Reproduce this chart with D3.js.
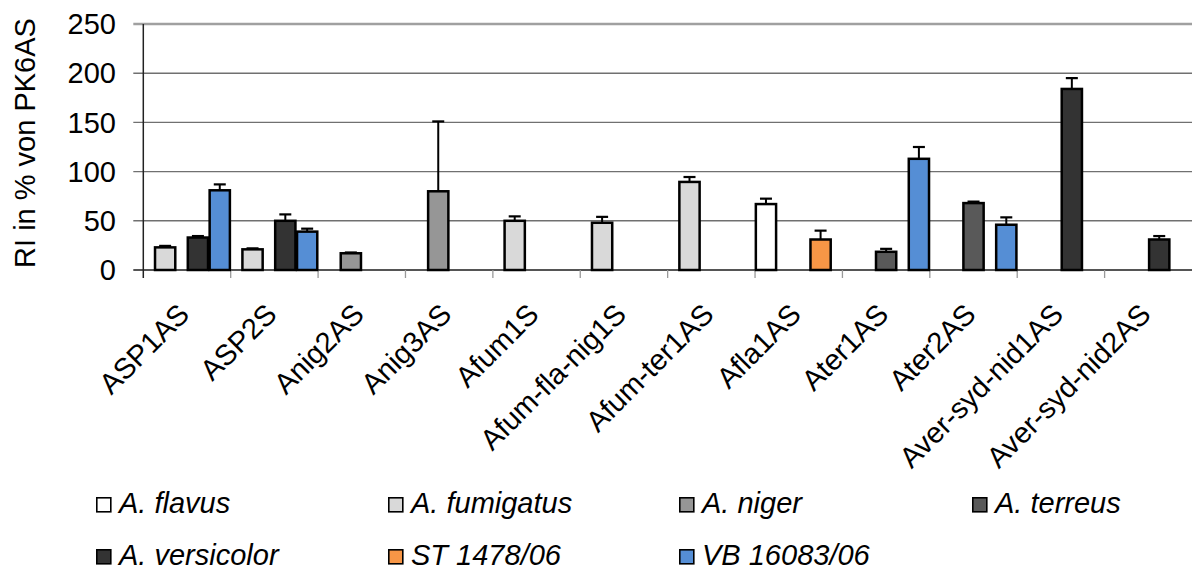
<!DOCTYPE html>
<html>
<head>
<meta charset="utf-8">
<script src="https://cdn.jsdelivr.net/npm/d3@7"></script>
<style>
  html, body { margin: 0; padding: 0; background: #fff; }
  svg { display: block; font-family: "Liberation Sans", Arial, Helvetica, sans-serif; }
</style>
</head>
<body>
<svg id="chart" width="1192" height="570"></svg>
<script>
// ---- data ----
const categories = ["ASP1AS", "ASP2S", "Anig2AS", "Anig3AS", "Afum1S", "Afum-fla-nig1S",
  "Afum-ter1AS", "Afla1AS", "Ater1AS", "Ater2AS", "Aver-syd-nid1AS", "Aver-syd-nid2AS"];
const seriesNames = ["A. flavus", "A. fumigatus", "A. niger", "A. terreus", "A. versicolor", "ST 1478/06", "VB 16083/06"];
const seriesColors = ["#ffffff", "#d9d9d9", "#969696", "#595959", "#333333", "#f79646", "#558ed5"];
const yTicks = [0, 50, 100, 150, 200, 250];

const flavus      = [null, null, null, null, null, null, null, 67, null, null, null, null];
const fumigatus   = [23, 21, null, null, 50, 48, 89.5, null, null, null, null, null];
const niger       = [null, null, 17, 80, null, null, null, null, null, null, null, null];
const terreus     = [null, null, null, null, null, null, null, null, 18.5, 68, null, null];
const versicolor  = [33, 50, null, null, null, null, null, null, null, null, 184, 31];
const st1478      = [null, null, null, null, null, null, null, 31, null, null, null, null];
const vb16083     = [81, 39, null, null, null, null, null, null, 113, 46, null, null];

const flavusErr     = [null, null, null, null, null, null, null, 5.5, null, null, null, null];
const fumigatusErr  = [1.5, 1, null, null, 4.5, 6, 5, null, null, null, null, null];
const nigerErr      = [null, null, 0.8, 71, null, null, null, null, null, null, null, null];
const terreusErr    = [null, null, null, null, null, null, null, null, 3, 1.5, null, null];
const versicolorErr = [1.5, 6.5, null, null, null, null, null, null, null, null, 11, 3.5];
const st1478Err     = [null, null, null, null, null, null, null, 9, null, null, null, null];
const vb16083Err    = [6, 3, null, null, null, null, null, null, 12, 7.5, null, null];

const seriesValues = [flavus, fumigatus, niger, terreus, versicolor, st1478, vb16083];
const seriesErrors = [flavusErr, fumigatusErr, nigerErr, terreusErr, versicolorErr, st1478Err, vb16083Err];

// ---- layout ----
const svg = d3.select("#chart");
const plot = { left: 143.3, right: 1192, top: 24, bottom: 270 };
const FONT = 29;

const x = d3.scaleBand().domain(categories).range([plot.left, plot.right]).paddingInner(0).paddingOuter(0);
const y = d3.scaleLinear().domain([0, 250]).range([plot.bottom, plot.top]);
// within a category: 7 overlapping slots, step = band/8, bar width = 2 steps
const slot = d3.scaleLinear().domain([0, 8]).range([0, x.bandwidth()]);
const barW = slot(2) - slot(0);

// gridlines (with left tick extension)
const grid = svg.append("g");
yTicks.forEach(t => {
  let stroke = "#707070", sw = 1.4;
  if (t === 250) { stroke = "#a0a0a0"; sw = 2.5; }
  if (t === 0) { stroke = "#555555"; sw = 2; }
  grid.append("line")
    .attr("x1", plot.left - 10).attr("x2", plot.right)
    .attr("y1", y(t)).attr("y2", y(t))
    .attr("stroke", stroke).attr("stroke-width", sw);
});

// x ticks at category boundaries
const boundaries = categories.map(c => x(c)).concat([plot.right]);
svg.append("g").selectAll("line").data(boundaries.slice(1, -1)).join("line")
  .attr("x1", d => d).attr("x2", d => d)
  .attr("y1", plot.bottom).attr("y2", plot.bottom + 8)
  .attr("stroke", "#999").attr("stroke-width", 1.3);

// left axis line
svg.append("line")
  .attr("x1", plot.left).attr("x2", plot.left)
  .attr("y1", plot.top).attr("y2", plot.bottom + 8)
  .attr("stroke", "#222").attr("stroke-width", 1.5);

// y tick labels
svg.append("g").selectAll("text").data(yTicks).join("text")
  .attr("x", 116).attr("y", d => y(d))
  .attr("dy", "0.35em")
  .attr("text-anchor", "end")
  .attr("font-size", FONT)
  .attr("fill", "#000")
  .text(d => d);

// y title
svg.append("text")
  .attr("transform", `translate(35,143) rotate(-90)`)
  .attr("text-anchor", "middle")
  .attr("font-size", FONT)
  .attr("fill", "#000")
  .text("RI in % von PK6AS");

// bars + error bars
const barsG = svg.append("g");
const errG = svg.append("g");
seriesValues.forEach((vals, si) => {
  vals.forEach((v, ci) => {
    if (v === null) return;
    const x0 = x(categories[ci]) + slot(si);
    const e = seriesErrors[si][ci] || 0;
    const cx = x0 + barW / 2;
    // error bar (plus only)
    errG.append("line")
      .attr("x1", cx).attr("x2", cx)
      .attr("y1", y(v)).attr("y2", y(v + e))
      .attr("stroke", "#000").attr("stroke-width", 2);
    errG.append("line")
      .attr("x1", cx - 6).attr("x2", cx + 6)
      .attr("y1", y(v + e)).attr("y2", y(v + e))
      .attr("stroke", "#000").attr("stroke-width", 2.2);
    barsG.append("rect")
      .attr("x", x0 + 0.8).attr("width", barW - 1.6)
      .attr("y", y(v)).attr("height", y(0) - y(v))
      .attr("fill", seriesColors[si])
      .attr("stroke", "#000").attr("stroke-width", 2.5);
  });
});

// x labels rotated -45
svg.append("g").selectAll("text").data(categories).join("text")
  .attr("transform", d => `translate(${x(d) + x.bandwidth() / 2 + 4},316) rotate(-45)`)
  .attr("text-anchor", "end")
  .attr("font-size", FONT)
  .attr("fill", "#000")
  .text(d => d);

// legend
const legendCols = [96, 388, 679, 972];
const legendRows = [497, 549];
const leg = svg.append("g");
seriesNames.forEach((name, i) => {
  const lx = legendCols[i % 4];
  const ly = legendRows[Math.floor(i / 4)];
  leg.append("rect")
    .attr("x", lx + 0.8).attr("y", ly + 0.8)
    .attr("width", 14).attr("height", 14)
    .attr("fill", seriesColors[i])
    .attr("stroke", "#000").attr("stroke-width", 1.6);
  leg.append("text")
    .attr("x", lx + 23).attr("y", ly + 16)
    .attr("font-size", FONT)
    .attr("font-style", "italic")
    .attr("fill", "#000")
    .text(name);
});
</script>
</body>
</html>
